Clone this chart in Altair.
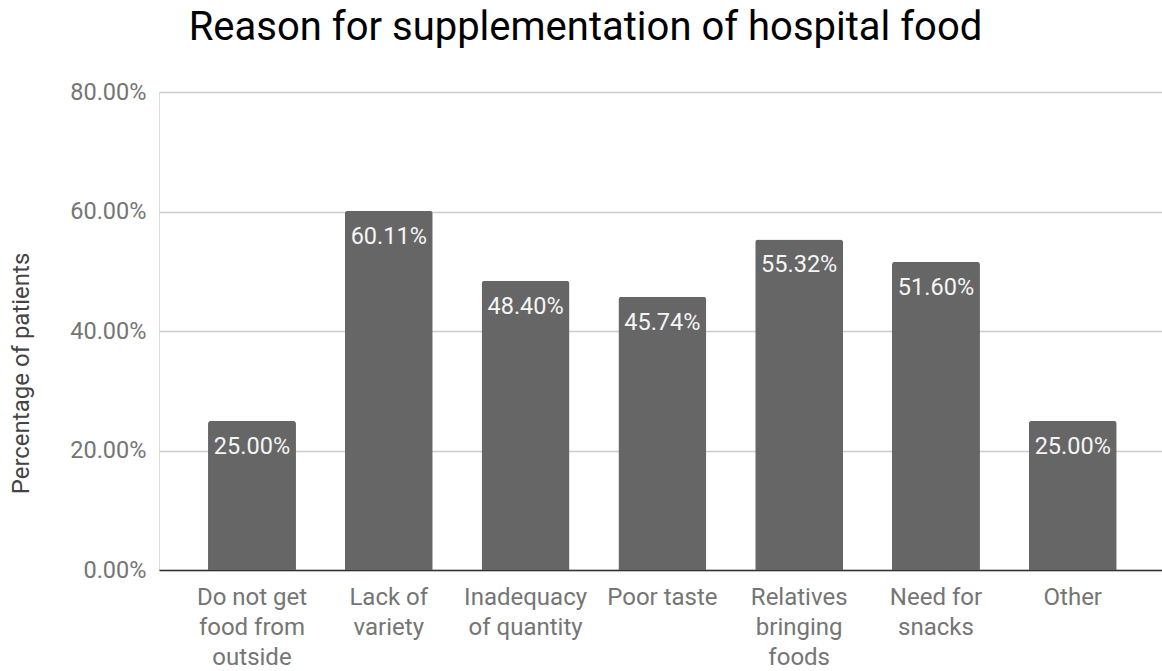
import altair as alt
import pandas as pd

categories = [
    "Do not get\nfood from\noutside",
    "Lack of\nvariety",
    "Inadequacy\nof quantity",
    "Poor taste",
    "Relatives\nbringing\nfoods",
    "Need for\nsnacks",
    "Other",
]
values = [0.25, 0.6011, 0.4840, 0.4574, 0.5532, 0.5160, 0.25]
y_ticks = [0, 0.2, 0.4, 0.6, 0.8]

df = pd.DataFrame({"reason": categories, "value": values})

FONT = "Roboto"
W, H = 1003, 478

x = alt.X(
    "reason:N",
    sort=None,
    title=None,
    scale=alt.Scale(paddingInner=0.357, paddingOuter=0.3445, align=0.52),
    axis=alt.Axis(
        labelExpr="split(datum.value, '\\n')",
        labelAngle=0,
        labelLimit=0,
        labelFontSize=24,
        labelColor="#757575",
        labelFont=FONT,
        labelLineHeight=30,
        labelPadding=15,
        labelBaseline="top",
        ticks=False,
        domain=True,
        domainColor="#333333",
        domainWidth=1.5,
        grid=False,
    ),
)

y = alt.Y(
    "value:Q",
    title="Percentage of patients",
    scale=alt.Scale(domain=[0, 0.8], nice=False),
    axis=alt.Axis(
        values=y_ticks,
        format=".2%",
        labelFontSize=23.5,
        labelColor="#757575",
        labelFont=FONT,
        labelPadding=13,
        ticks=False,
        domain=False,
        grid=True,
        gridColor="#cccccc",
        gridWidth=1.5,
        titleFont=FONT,
        titleFontSize=24,
        titleFontWeight="normal",
        titleColor="#444444",
        titleAngle=-90,
        titleAlign="center",
        titleBaseline="middle",
        titleX=-138,
        titleY=281,
    ),
)

bars = alt.Chart(df).mark_bar(
    color="#666666", cornerRadiusTopLeft=3, cornerRadiusTopRight=3
).encode(x=x, y=y)

labels = alt.Chart(df).mark_text(
    color="#f5f5f5", font=FONT, fontSize=23.5, baseline="alphabetic", dy=33
).encode(
    x=alt.X("reason:N", sort=None),
    y=alt.Y("value:Q"),
    text=alt.Text("value:Q", format=".2%"),
)

chart = (
    alt.layer(bars, labels)
    .properties(
        width=W,
        height=H,
        title=alt.TitleParams(
            "Reason for supplementation of hospital food",
            font=FONT,
            fontSize=40,
            fontWeight="normal",
            color="#000000",
            anchor="middle",
            frame="bounds",
            offset=32,
        ),
        autosize=alt.AutoSizeParams(type="none"),
        padding={"left": 159, "top": 92, "right": 0, "bottom": 101},
    )
    .configure_view(stroke=None)
    .configure(background="white")
)

chart.save("out.html", embed_options={"renderer": "svg", "actions": False})
